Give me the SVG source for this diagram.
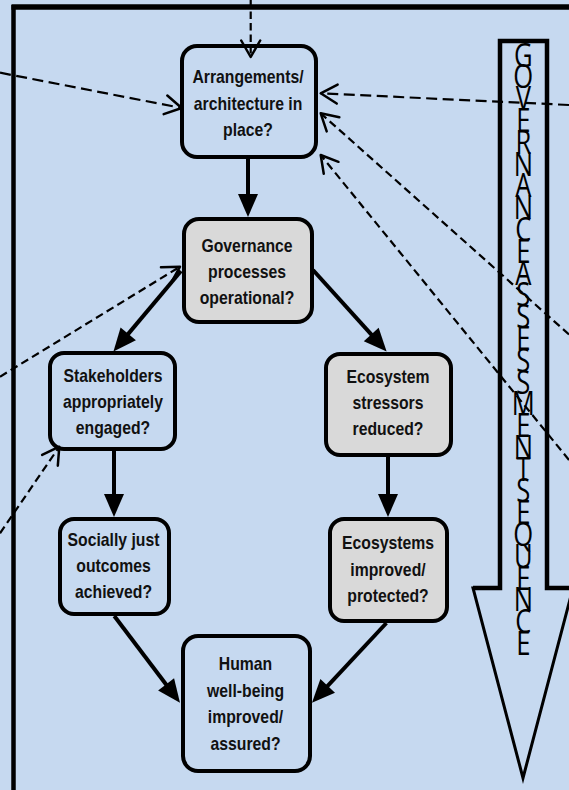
<svg xmlns="http://www.w3.org/2000/svg" width="569" height="790" viewBox="0 0 569 790">
<style>
.bg{fill:#c6d9f0}
.node rect{stroke:#000;stroke-width:4}
.blue{fill:#c6d9f0}
.gray{fill:#d9d9d9}
.lbl{font-family:"Liberation Sans",Arial,sans-serif;font-weight:bold;font-size:19px;fill:#111;text-anchor:middle}
.solid{stroke:#000;stroke-width:4;fill:none;marker-end:url(#solidHead)}
.dash{stroke:#000;stroke-width:2.2;fill:none;marker-end:url(#openHead)}
.seq{font-family:"Open Sans","DejaVu Sans",sans-serif;font-size:32px;fill:#000;text-anchor:middle}
</style>
<defs>
<marker id="solidHead" markerUnits="userSpaceOnUse" orient="auto" markerWidth="30" markerHeight="30" refX="0" refY="0" overflow="visible">
<path d="M-1,-10 L22,0 L-1,10 Z" fill="#000"/>
</marker>
<marker id="openHead" markerUnits="userSpaceOnUse" orient="auto" markerWidth="30" markerHeight="30" refX="0" refY="0" overflow="visible">
<path d="M-16.5,-9.5 L0,0 L-16.5,9.5" fill="none" stroke="#000" stroke-width="2.5" stroke-dasharray="none" stroke-linecap="round" stroke-linejoin="round"/>
</marker>
</defs>
<rect class="bg" x="0" y="0" width="569" height="790"/>
<g id="frame" fill="none" stroke="#000">
<line x1="13.5" y1="5" x2="13.5" y2="790" stroke-width="4.5"/>
<line x1="11.5" y1="7" x2="569" y2="7" stroke-width="5.5"/>
</g>
<g id="sequence-arrow">
<polygon points="500,41 547,41 547,588 573,588 523,778 473,588 500,588" fill="none" stroke="#000" stroke-width="3" stroke-linejoin="miter"/>
<path d="M473,588 H500 V41 H547 V588 H573" fill="none" stroke="#000" stroke-width="4.5"/>
<g transform="translate(523.3,0) scale(0.8,1)">
<text class="seq" x="0 0 0 0 0 0 0 0 0 0 0 0 0 0 0 0 0 0 0 0 0 0 0 0 0 0 0 0" y="66.7 88.5 110.3 132.1 153.9 175.7 197.4 219.2 241 262.8 284.6 306.4 328.2 350 371.8 393.6 415.3 437.1 458.9 480.7 502.5 524.3 546.1 567.9 589.7 611.5 633.2 655">GOVERNANCEASSESSMENTSEQUENCE</text>
</g>
</g>
<g id="n-arrangements" class="node">
<rect class="blue" x="182" y="46" width="134" height="111" rx="15"/>
<text class="lbl" transform="translate(248,0) scale(0.83,1)"><tspan x="0" y="83">Arrangements/</tspan><tspan x="0" y="110">architecture in</tspan><tspan x="0" y="136">place?</tspan></text>
</g>
<g id="n-governance" class="node">
<rect class="gray" x="184" y="219" width="128" height="103" rx="15"/>
<text class="lbl" transform="translate(247,0) scale(0.83,1)"><tspan x="0" y="252.5">Governance</tspan><tspan x="0" y="278.5">processes</tspan><tspan x="0" y="304.5">operational?</tspan></text>
</g>
<g id="n-stakeholders" class="node">
<rect class="blue" x="50" y="353" width="125" height="96" rx="14"/>
<text class="lbl" transform="translate(113,0) scale(0.83,1)"><tspan x="0" y="382.5">Stakeholders</tspan><tspan x="0" y="408.5">appropriately</tspan><tspan x="0" y="434.5">engaged?</tspan></text>
</g>
<g id="n-stressors" class="node">
<rect class="gray" x="326" y="354" width="125" height="101" rx="14"/>
<text class="lbl" transform="translate(388,0) scale(0.83,1)"><tspan x="0" y="383">Ecosystem</tspan><tspan x="0" y="409">stressors</tspan><tspan x="0" y="435.5">reduced?</tspan></text>
</g>
<g id="n-social" class="node">
<rect class="blue" x="60" y="519" width="109" height="95" rx="14"/>
<text class="lbl" transform="translate(113.5,0) scale(0.83,1)"><tspan x="0" y="546.5">Socially just</tspan><tspan x="0" y="572.5">outcomes</tspan><tspan x="0" y="598.5">achieved?</tspan></text>
</g>
<g id="n-ecosystems" class="node">
<rect class="gray" x="330" y="519" width="117" height="102" rx="14"/>
<text class="lbl" transform="translate(388,0) scale(0.83,1)"><tspan x="0" y="549">Ecosystems</tspan><tspan x="0" y="576">improved/</tspan><tspan x="0" y="602.5">protected?</tspan></text>
</g>
<g id="n-human" class="node">
<rect class="blue" x="183" y="636" width="127" height="135" rx="15"/>
<text class="lbl" transform="translate(245.5,0) scale(0.83,1)"><tspan x="0" y="670">Human</tspan><tspan x="0" y="697">well-being</tspan><tspan x="0" y="723.5">improved/</tspan><tspan x="0" y="750">assured?</tspan></text>
</g>
<g id="connectors">
<line class="solid" x1="248" y1="159" x2="248" y2="195"/>
<line class="solid" x1="181" y1="271" x2="127.6" y2="334.6"/>
<line class="solid" x1="313" y1="270" x2="371.9" y2="335.2"/>
<line class="solid" x1="114" y1="451" x2="114" y2="495"/>
<line class="solid" x1="388" y1="457" x2="388" y2="495"/>
<line class="solid" x1="114.3" y1="616" x2="166.7" y2="685.2"/>
<line class="solid" x1="386.4" y1="623" x2="327" y2="686.6"/>
<line class="dash" stroke-dasharray="7.5 4" x1="250.7" y1="0" x2="250.7" y2="57"/>
<line class="dash" stroke-dasharray="11 5.5" x1="0" y1="72.7" x2="181.7" y2="108"/>
<line class="dash" stroke-dasharray="11 5.5" x1="569" y1="105" x2="320.7" y2="93.3"/>
<line class="dash" stroke-dasharray="8 4.5" x1="569" y1="334.5" x2="320.7" y2="113.3"/>
<line class="dash" stroke-dasharray="8 4.5" x1="569" y1="460" x2="320.7" y2="155"/>
<line class="dash" stroke-dasharray="8 4.5" x1="0" y1="376.7" x2="180" y2="266.7"/>
<line class="dash" stroke-dasharray="8 4.5" x1="0" y1="533.3" x2="59.3" y2="446.7"/>
</g>
</svg>
